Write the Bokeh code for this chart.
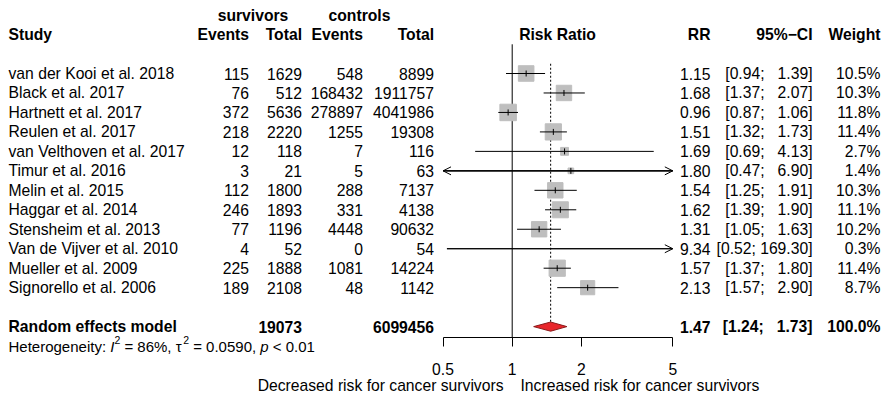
import numpy as np
from bokeh.plotting import figure
from bokeh.models import (Range1d, LogScale, LogAxis, FixedTicker, CustomJSTickFormatter,
                          ColumnDataSource, Arrow, OpenHead, Label)
from bokeh.core.properties import value
from bokeh.embed import file_html
from bokeh.resources import INLINE

# ---------------------------------------------------------------- data
studies = [
    "van der Kooi et al. 2018", "Black et al. 2017", "Hartnett et al. 2017",
    "Reulen et al. 2017", "van Velthoven et al. 2017", "Timur et al. 2016",
    "Melin et al. 2015", "Haggar et al. 2014", "Stensheim et al. 2013",
    "Van de Vijver et al. 2010", "Mueller et al. 2009", "Signorello et al. 2006",
]
events_surv = [115, 76, 372, 218, 12, 3, 112, 246, 77, 4, 225, 189]
total_surv = [1629, 512, 5636, 2220, 118, 21, 1800, 1893, 1196, 52, 1888, 2108]
events_ctrl = [548, 168432, 278897, 1255, 7, 5, 288, 331, 4448, 0, 1081, 48]
total_ctrl = [8899, 1911757, 4041986, 19308, 116, 63, 7137, 4138, 90632, 54, 14224, 1142]
rr = [1.15, 1.68, 0.96, 1.51, 1.69, 1.80, 1.54, 1.62, 1.31, 9.34, 1.57, 2.13]
ci_low = [0.94, 1.37, 0.87, 1.32, 0.69, 0.47, 1.25, 1.39, 1.05, 0.52, 1.37, 1.57]
ci_high = [1.39, 2.07, 1.06, 1.73, 4.13, 6.90, 1.91, 1.90, 1.63, 169.30, 1.80, 2.90]
weight = [10.5, 10.3, 11.8, 11.4, 2.7, 1.4, 10.3, 11.1, 10.2, 0.3, 11.4, 8.7]

pooled_rr = 1.47
pooled_low = 1.24
pooled_high = 1.73
pooled_weight = 100.0
het_i2 = "86%"
het_tau2 = "0.0590"
het_p = "0.01"

axis_ticks = [0.5, 1, 2, 5]
axis_limits = (0.5, 5)

# ---------------------------------------------------------------- layout
W, H = 885, 395
ROW0 = 73.0                 # canvas y of the first study row
ROW_H = 19.47               # line spacing
AXIS_Y = 336.5              # canvas y of the x axis line
X_ONE = 511.7               # canvas x of RR = 1
PX_PER_LN = 99.8            # pixels per natural-log unit
FONT = "Liberation Sans"
FS = "15.7px"
HET_FS = 15.0
SQ_MAX = 16.5
NBSP = "\u00a0"

n = len(studies)
rows = np.arange(n)
row_pooled = n + 1
row_het = n + 2
axis_row = (AXIS_Y - ROW0) / ROW_H

p = figure(width=W, height=H, output_backend="svg", toolbar_location=None,
           x_axis_location=None, y_axis_location=None,
           x_range=Range1d(0, W),
           y_range=Range1d((H - ROW0) / ROW_H, -ROW0 / ROW_H),
           min_border=0)
p.outline_line_color = None
p.grid.visible = False
p.background_fill_color = "white"
p.border_fill_color = "white"
p.extra_x_ranges = {"rr": Range1d(float(np.exp(-X_ONE / PX_PER_LN)),
                                  float(np.exp((W - X_ONE) / PX_PER_LN)))}
p.extra_x_scales = {"rr": LogScale()}

# log axis pinned under the last row
ax = LogAxis(x_range_name="rr", ticker=FixedTicker(ticks=axis_ticks, minor_ticks=[]),
             bounds=axis_limits, fixed_location=axis_row,
             formatter=CustomJSTickFormatter(code="return String(tick)"))
ax.axis_line_color = "black"
ax.major_tick_line_color = "black"
ax.major_tick_in = 0
ax.major_tick_out = 9
ax.minor_tick_in = 0
ax.minor_tick_out = 0
ax.major_label_standoff = 17
ax.major_label_text_font = FONT
ax.major_label_text_font_size = FS
ax.major_label_text_color = "black"
p.add_layout(ax, "below")


def column(x, ys, texts, align, bold=False, size=FS):
    p.text(x=[x] * len(texts), y=list(ys), text=list(texts),
           text_font=value(FONT), text_font_size=size, text_color="black",
           text_align=align, text_baseline="middle",
           text_font_style="bold" if bold else "normal")


def fmt_ci(lo, hi, hi_width):
    hi_s = f"{hi:.2f}"
    pad = NBSP * (1 + hi_width - len(hi_s))
    return f"[{lo:.2f};{pad}{hi_s}]"


hi_width = max(len(f"{v:.2f}") for v in ci_high)

# ---------------------------------------------------------------- headers
column(252.5, [-3], ["survivors"], "center", bold=True)
column(359, [-3], ["controls"], "center", bold=True)
column(8, [-2], ["Study"], "left", bold=True)
column(248.5, [-2], ["Events"], "right", bold=True)
column(301.5, [-2], ["Total"], "right", bold=True)
column(362.5, [-2], ["Events"], "right", bold=True)
column(433.5, [-2], ["Total"], "right", bold=True)
column(557, [-2], ["Risk Ratio"], "center", bold=True)
column(710, [-2], ["RR"], "right", bold=True)
column(812, [-2], ["95%\u2212CI"], "right", bold=True)
column(880, [-2], ["Weight"], "right", bold=True)

# ---------------------------------------------------------------- study rows
column(8, rows, studies, "left")
column(248.5, rows, [str(v) for v in events_surv], "right")
column(301.5, rows, [str(v) for v in total_surv], "right")
column(362.5, rows, [str(v) for v in events_ctrl], "right")
column(433.5, rows, [str(v) for v in total_ctrl], "right")
column(710, rows, [f"{v:.2f}" for v in rr], "right")
column(812, rows, [fmt_ci(lo, hi, hi_width) for lo, hi in zip(ci_low, ci_high)], "right")
column(880, rows, [f"{v:.1f}%" for v in weight], "right")

# ---------------------------------------------------------------- pooled row
column(8, [row_pooled], ["Random effects model"], "left", bold=True)
column(301.5, [row_pooled], [str(sum(total_surv))], "right", bold=True)
column(433.5, [row_pooled], [str(sum(total_ctrl))], "right", bold=True)
column(710, [row_pooled], [f"{pooled_rr:.2f}"], "right", bold=True)
column(812, [row_pooled], [fmt_ci(pooled_low, pooled_high, hi_width)], "right", bold=True)
column(880, [row_pooled], [f"{pooled_weight:.1f}%"], "right", bold=True)

# ---------------------------------------------------------------- forest marks
rr_a = np.array(rr)
lo_a = np.array(ci_low)
hi_a = np.array(ci_high)
w_a = np.array(weight)
lo_c = np.clip(lo_a, *axis_limits)
hi_c = np.clip(hi_a, *axis_limits)
inside = (rr_a >= axis_limits[0]) & (rr_a <= axis_limits[1])

# reference line at RR = 1 and pooled-estimate line
p.segment(x0=[1], y0=[-1.5], x1=[1], y1=[axis_row],
          x_range_name="rr", line_color="black", line_width=1)
DIA_H = 4.6 / ROW_H
p.segment(x0=[pooled_rr], y0=[-0.5], x1=[pooled_rr], y1=[row_pooled - DIA_H],
          x_range_name="rr", line_color="black", line_width=1, line_dash="2 2")

# weight squares (area proportional to weight)
p.scatter(x=rr_a[inside], y=rows[inside],
          size=SQ_MAX * np.sqrt(w_a[inside] / w_a.max()),
          marker="square", fill_color="#BEBEBE", line_color="#BEBEBE",
          x_range_name="rr")

# confidence intervals
p.segment(x0=lo_c, y0=rows, x1=hi_c, y1=rows, x_range_name="rr",
          line_color="black", line_width=1)

# point estimates
p.scatter(x=rr_a[inside], y=rows[inside], size=6, marker="dash", angle=np.pi / 2,
          line_color="black", line_width=1, x_range_name="rr")

# arrows for intervals running past the axis limits
right = hi_a > axis_limits[1]
left = lo_a < axis_limits[0]
src_r = ColumnDataSource(dict(x0=lo_c[right], x1=hi_c[right], y=rows[right]))
src_l = ColumnDataSource(dict(x0=hi_c[left], x1=lo_c[left], y=rows[left]))
for src in (src_r, src_l):
    p.add_layout(Arrow(end=OpenHead(size=8, line_width=1, line_color="black"),
                       x_start="x0", y_start="y", x_end="x1", y_end="y",
                       source=src, x_range_name="rr",
                       line_color="black", line_width=1))

# pooled diamond
p.patch(x=[pooled_low, pooled_rr, pooled_high, pooled_rr],
        y=[row_pooled, row_pooled - DIA_H, row_pooled, row_pooled + DIA_H],
        x_range_name="rr", fill_color="#E8262B", line_color="#8A1A1A", line_width=1)

# ---------------------------------------------------------------- heterogeneity
AW = {" ": 278, ":": 278, "=": 584, "%": 889, ",": 278, ".": 278, "<": 584,
      "H": 722, "e": 556, "t": 278, "r": 333, "o": 556, "g": 556, "n": 556,
      "i": 222, "y": 500, "I": 278, "p": 556, "\u03c4": 500}
for d in "0123456789":
    AW[d] = 556


def text_w(s, fs):
    return sum(AW.get(c, 556) for c in s) * fs / 1000.0


SUP = 0.7 * HET_FS
pieces = [
    ("Heterogeneity: ", HET_FS, "normal", 0),
    ("I", HET_FS, "italic", 0),
    ("2", SUP, "normal", 6),
    (f" = {het_i2}, ", HET_FS, "normal", 0),
    ("\u03c4", HET_FS, "normal", 0),
    ("2", SUP, "normal", 6),
    (f" = {het_tau2}, ", HET_FS, "normal", 0),
    ("p", HET_FS, "italic", 0),
    (f" < {het_p}", HET_FS, "normal", 0),
]
xpos = 8.0
for txt, fs, style, raise_px in pieces:
    p.add_layout(Label(x=xpos, y=row_het, text=txt.replace(" ", NBSP), y_offset=raise_px,
                       text_font=FONT, text_font_size=f"{fs}px",
                       text_font_style=style, text_color="black",
                       text_align="left", text_baseline="middle"))
    xpos += text_w(txt, fs)

# ---------------------------------------------------------------- direction labels
row_dir = row_het + 2.04
p.add_layout(Label(x=503, y=row_dir, text="Decreased risk for cancer survivors",
                   text_font=FONT, text_font_size=FS, text_color="black",
                   text_align="right", text_baseline="middle"))
p.add_layout(Label(x=520, y=row_dir, text="Increased risk for cancer survivors",
                   text_font=FONT, text_font_size=FS, text_color="black",
                   text_align="left", text_baseline="middle"))

open("out.html", "w").write(file_html(p, INLINE))
